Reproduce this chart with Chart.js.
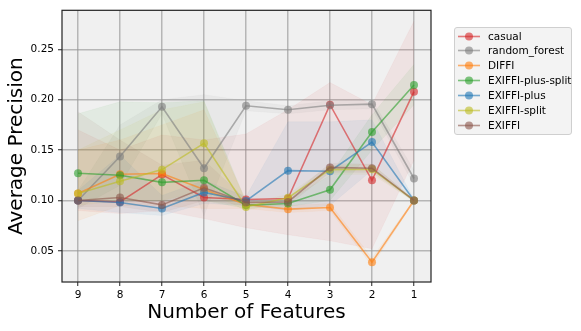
<!DOCTYPE html>
<html>
<head>
<meta charset="utf-8">
<script src="https://cdn.jsdelivr.net/npm/chart.js@4/dist/chart.umd.min.js"></script>
<style>
  html, body { margin: 0; padding: 0; background: #ffffff; }
  #wrap { position: relative; width: 581px; height: 331px; }
  #legend {
    position: absolute; left: 454px; top: 27px; width: 118px; height: 108px;
    border: 1px solid #cfcfcf; border-radius: 3px; background: rgba(242,242,242,0.9);
    font-family: "DejaVu Sans", sans-serif; font-size: 10.5px; color: #000;
    box-sizing: border-box; padding-top: 0.5px;
  }
  .row { position: relative; height: 14.9px; line-height: 14.9px; white-space: nowrap; }
  .row svg { position: absolute; left: 3px; top: 0; }
  .row span { position: absolute; left: 33px; top: 0; }
</style>
</head>
<body>
<div id="wrap">
  <canvas id="c" width="581" height="331"></canvas>
  <div id="legend"></div>
</div>
<script>
// ---- data ----
const features = [9, 8, 7, 6, 5, 4, 3, 2, 1];
const xTickLabels = ['9', '8', '7', '6', '5', '4', '3', '2', '1'];
const seriesNames = ['casual', 'random_forest', 'DIFFI', 'EXIFFI-plus-split', 'EXIFFI-plus', 'EXIFFI-split', 'EXIFFI'];

const casual      = [0.100, 0.0985, 0.1257, 0.103, 0.101, 0.102, 0.195, 0.120, 0.208];
const casualLo    = [0.090, 0.087, 0.090, 0.082, 0.073, 0.066, 0.060, 0.052, 0.140];
const casualHi    = [0.170, 0.150, 0.165, 0.160, 0.166, 0.190, 0.217, 0.195, 0.278];

const randomForest   = [0.100, 0.1436, 0.193, 0.132, 0.194, 0.190, 0.1945, 0.1956, 0.1218];
const randomForestLo = [0.092, 0.115, 0.186, 0.085, 0.189, 0.186, 0.190, 0.191, 0.115];
const randomForestHi = [0.110, 0.175, 0.200, 0.205, 0.199, 0.194, 0.199, 0.200, 0.130];

const diffi   = [0.107, 0.126, 0.1267, 0.111, 0.096, 0.0914, 0.093, 0.0387, 0.100];
const diffiLo = [0.080, 0.095, 0.095, 0.092, 0.092, 0.088, 0.090, 0.035, 0.099];
const diffiHi = [0.150, 0.160, 0.175, 0.190, 0.100, 0.095, 0.097, 0.043, 0.101];

const plusSplit   = [0.127, 0.125, 0.118, 0.120, 0.0953, 0.097, 0.1106, 0.168, 0.2145];
const plusSplitLo = [0.100, 0.100, 0.100, 0.100, 0.092, 0.094, 0.100, 0.150, 0.195];
const plusSplitHi = [0.186, 0.198, 0.197, 0.199, 0.099, 0.100, 0.125, 0.185, 0.235];

const plus   = [0.100, 0.098, 0.092, 0.108, 0.0995, 0.1296, 0.129, 0.158, 0.100];
const plusLo = [0.092, 0.088, 0.085, 0.097, 0.095, 0.090, 0.095, 0.130, 0.099];
const plusHi = [0.110, 0.145, 0.105, 0.120, 0.104, 0.178, 0.178, 0.180, 0.101];

const split   = [0.107, 0.119, 0.1306, 0.1567, 0.0936, 0.1027, 0.1306, 0.131, 0.100];
const splitLo = [0.095, 0.100, 0.100, 0.110, 0.090, 0.099, 0.126, 0.126, 0.099];
const splitHi = [0.150, 0.170, 0.190, 0.198, 0.097, 0.106, 0.135, 0.136, 0.101];

const exiffi   = [0.100, 0.103, 0.0956, 0.1126, 0.098, 0.0985, 0.1328, 0.132, 0.100];
const exiffiLo = [0.094, 0.094, 0.088, 0.100, 0.095, 0.095, 0.128, 0.128, 0.099];
const exiffiHi = [0.188, 0.160, 0.135, 0.140, 0.101, 0.102, 0.137, 0.136, 0.101];

const yTicks = [0.05, 0.10, 0.15, 0.20, 0.25];

// ---- styling ----
const colors = ['214,39,40', '127,127,127', '255,127,14', '44,160,44', '31,119,180', '188,189,34', '140,86,75'];
const means = [casual, randomForest, diffi, plusSplit, plus, split, exiffi];
const lows  = [casualLo, randomForestLo, diffiLo, plusSplitLo, plusLo, splitLo, exiffiLo];
const highs = [casualHi, randomForestHi, diffiHi, plusSplitHi, plusHi, splitHi, exiffiHi];

const pts = arr => features.map((f, i) => ({ x: f, y: arr[i] }));

const datasets = [];
// bands first (drawn below)
seriesNames.forEach((name, s) => {
  const idxHi = datasets.length;
  datasets.push({
    label: name + ' hi', data: pts(highs[s]), pointRadius: 0, borderWidth: 0.6,
    borderColor: 'rgba(' + colors[s] + ',0.06)',
    backgroundColor: 'rgba(' + colors[s] + ',0.07)',
    fill: { target: idxHi + 1 }, order: 100 - s, tension: 0
  });
  datasets.push({
    label: name + ' lo', data: pts(lows[s]), pointRadius: 0, borderWidth: 0.6,
    borderColor: 'rgba(' + colors[s] + ',0.06)', fill: false, order: 100 - s, tension: 0
  });
});
seriesNames.forEach((name, s) => {
  datasets.push({
    label: name, data: pts(means[s]),
    borderColor: 'rgba(' + colors[s] + ',0.6)',
    backgroundColor: 'rgba(' + colors[s] + ',0.6)',
    pointBackgroundColor: 'rgba(' + colors[s] + ',0.6)',
    pointBorderColor: 'rgba(' + colors[s] + ',0.6)',
    pointRadius: 4, pointBorderWidth: 0, borderWidth: 1.6, fill: false, tension: 0,
    order: 20 - s
  });
});

const frame = {
  id: 'frame',
  beforeDraw(chart) {
    const { ctx, chartArea: a } = chart;
    ctx.save();
    ctx.fillStyle = '#f0f0f0';
    ctx.fillRect(a.left, a.top, a.right - a.left, a.bottom - a.top);
    ctx.restore();
  },
  afterDraw(chart) {
    const { ctx, chartArea: a } = chart;
    ctx.save();
    ctx.strokeStyle = '#222';
    ctx.lineWidth = 1.2;
    ctx.strokeRect(a.left, a.top, a.right - a.left, a.bottom - a.top);
    ctx.restore();
  }
};

const tickFont = { family: 'DejaVu Sans', size: 10.5 };
const titleFont = { family: 'DejaVu Sans', size: 20 };

new Chart(document.getElementById('c'), {
  type: 'line',
  data: { datasets },
  options: {
    responsive: false, animation: false,
    layout: { padding: { left: 0, top: 7, right: 150, bottom: 0 } },
    plugins: { legend: { display: false }, tooltip: { enabled: false } },
    scales: {
      x: {
        type: 'linear', reverse: true, min: 0.595, max: 9.381,
        afterFit: s => { s.height = 49; },
        ticks: {
          stepSize: 1, includeBounds: false, color: '#000', font: tickFont, padding: 3,
          maxRotation: 0, autoSkip: false,
          callback: v => { const i = features.indexOf(v); return i >= 0 ? xTickLabels[i] : ''; }
        },
        grid: { color: 'rgba(150,150,150,0.65)', lineWidth: 1.5, drawTicks: true, tickLength: 4, tickColor: '#222', tickWidth: 1 },
        border: { display: false },
        title: { display: true, text: 'Number of Features', font: titleFont, color: '#000', padding: { top: 0, bottom: 6 } }
      },
      y: {
        type: 'linear', min: 0.0191, max: 0.2887,
        afterFit: s => { s.width = 62; },
        afterBuildTicks: s => { s.ticks = yTicks.map(v => ({ value: v })); },
        ticks: {
          stepSize: 0.05, includeBounds: false, color: '#000', font: tickFont, padding: 4,
          callback: v => v.toFixed(2)
        },
        grid: { color: 'rgba(150,150,150,0.65)', lineWidth: 1.5, drawTicks: true, tickLength: 4, tickColor: '#222', tickWidth: 1 },
        border: { display: false },
        title: { display: true, text: 'Average Precision', font: titleFont, color: '#000', padding: { top: 5, bottom: 0 } }
      }
    }
  },
  plugins: [frame]
});

// ---- legend (HTML, real text) ----
const legend = document.getElementById('legend');
seriesNames.forEach((name, s) => {
  const row = document.createElement('div');
  row.className = 'row';
  const c = 'rgba(' + colors[s] + ',0.6)';
  row.innerHTML =
    '<svg width="24" height="15" viewBox="0 0 24 15">' +
    '<line x1="0" y1="7.5" x2="22" y2="7.5" stroke="' + c + '" stroke-width="1.6"/>' +
    '<circle cx="11" cy="7.5" r="4" fill="' + c + '"/></svg>';
  const sp = document.createElement('span');
  sp.textContent = name;
  row.appendChild(sp);
  legend.appendChild(row);
});
</script>
</body>
</html>
